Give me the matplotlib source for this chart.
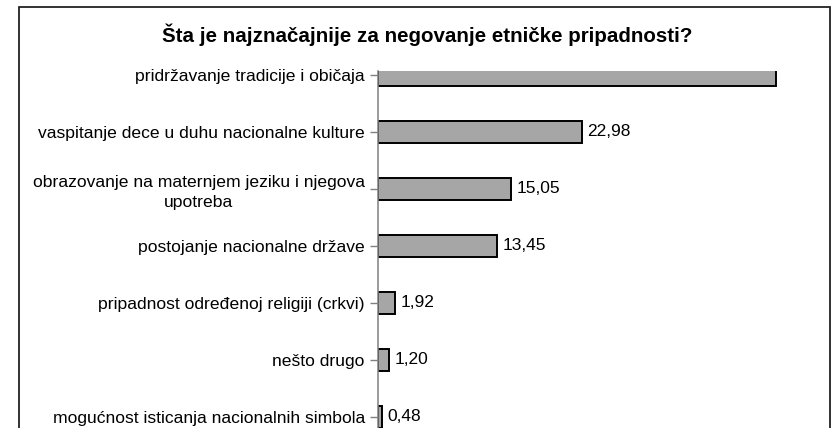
"""Horizontal bar chart: Šta je najznačajnije za negovanje etničke pripadnosti?"""

import matplotlib

matplotlib.use("Agg")
import matplotlib.pyplot as plt
from matplotlib.patches import Rectangle

plt.rcParams["font.family"] = ["Liberation Sans", "DejaVu Sans"]

TITLE = "Šta je najznačajnije za negovanje etničke pripadnosti?"

categories = [
    "pridržavanje tradicije i običaja",
    "vaspitanje dece u duhu nacionalne kulture",
    "obrazovanje na maternjem jeziku i njegova\nupotreba",
    "postojanje nacionalne države",
    "pripadnost određenoj religiji (crkvi)",
    "nešto drugo",
    "mogućnost isticanja nacionalnih simbola",
]
values = [44.92, 22.98, 15.05, 13.45, 1.92, 1.20, 0.48]
# the first bar's value label is not shown in the reference
show_label = [False, True, True, True, True, True, True]

W, H = 838, 428
fig = plt.figure(figsize=(W / 100, H / 100), dpi=100)
fig.patch.set_facecolor("white")

# outer chart frame (bottom edge falls outside the image)
fig.add_artist(
    Rectangle((19 / W, -0.05), (830 - 19) / W, 1.05 - 7 / H,
              transform=fig.transFigure, fill=False, ec="#222222", lw=1.3)
)

ax = fig.add_axes([378 / W, 0.0, 442.8 / W, 1 - 71 / H])
ypos = list(range(len(categories)))
bars = ax.barh(ypos, values, height=0.386, color="#A6A6A6",
               edgecolor="black", linewidth=1.4)

ax.set_xlim(0, 50)
ax.set_ylim(6.193, -0.07)
ax.set_yticks(ypos)
ax.set_yticklabels(categories, fontsize=12.6, color="black",
                   multialignment="center", linespacing=1.4)
ax.tick_params(axis="y", length=6, width=1, color="#808080", pad=3.5)
ax.set_xticks([])
for side in ("top", "right", "bottom"):
    ax.spines[side].set_visible(False)
ax.spines["left"].set_color("#808080")
ax.spines["left"].set_linewidth(1.1)

for bar, v, show in zip(bars, values, show_label):
    if not show:
        continue
    ax.annotate(f"{v:.2f}".replace(".", ","),
                xy=(bar.get_width(), bar.get_y() + bar.get_height() / 2),
                xytext=(4, 0), textcoords="offset points",
                ha="left", va="center", fontsize=12.5, color="black")

fig.text(427.5 / W, 1 - 35 / H, TITLE, ha="center", va="center",
         fontsize=14.8, fontweight="bold", color="black")

fig.savefig("out.png", dpi=100)
